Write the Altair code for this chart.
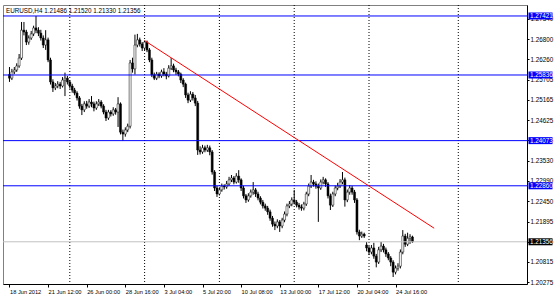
import json
import altair as alt
import pandas as pd

# ---------------- data (EURUSD H4) ----------------
opens = [1.2585, 1.2575, 1.2592, 1.2597, 1.2608, 1.2629, 1.2704, 1.2699, 1.2672, 1.2683,
         1.2694, 1.2710, 1.2704, 1.2696, 1.2683, 1.2664, 1.2678, 1.2624, 1.2565, 1.2549,
         1.2554, 1.2559, 1.2554, 1.2570, 1.2575, 1.2565, 1.2554, 1.2543, 1.2535, 1.2522,
         1.2500, 1.2490, 1.2506, 1.2500, 1.2511, 1.2506, 1.2495, 1.2506, 1.2511, 1.2500,
         1.2484, 1.2468, 1.2484, 1.2479, 1.2490, 1.2484, 1.2506, 1.2430, 1.2425, 1.2436,
         1.2446, 1.2616, 1.2600, 1.2664, 1.2678, 1.2667, 1.2656, 1.2672, 1.2651, 1.2624,
         1.2584, 1.2575, 1.2586, 1.2581, 1.2592, 1.2586, 1.2581, 1.2602, 1.2608, 1.2597,
         1.2592, 1.2586, 1.2570, 1.2559, 1.2530, 1.2516, 1.2532, 1.2522, 1.2508, 1.2382,
         1.2377, 1.2388, 1.2382, 1.2388, 1.2377, 1.2323, 1.2280, 1.2264, 1.2275, 1.2285,
         1.2283, 1.2291, 1.2302, 1.2307, 1.2296, 1.2312, 1.2302, 1.2280, 1.2259, 1.2248,
         1.2259, 1.2269, 1.2275, 1.2264, 1.2253, 1.2242, 1.2232, 1.2226, 1.2216, 1.2199,
         1.2183, 1.2178, 1.2189, 1.2178, 1.2194, 1.2210, 1.2232, 1.2237, 1.2248, 1.2242,
         1.2234, 1.2229, 1.2226, 1.2237, 1.2264, 1.2285, 1.2296, 1.2291, 1.2285, 1.2280,
         1.2296, 1.2302, 1.2291, 1.2259, 1.2234, 1.2264, 1.2280, 1.2285, 1.2296, 1.2302,
         1.2248, 1.2269, 1.2280, 1.2269, 1.2248, 1.2162, 1.2151, 1.2156, 1.2127, 1.2119,
         1.2108, 1.2119, 1.2097, 1.2081, 1.2114, 1.2124, 1.2114, 1.2103, 1.2092, 1.2081,
         1.2054, 1.2065, 1.2070, 1.2108, 1.2151, 1.2129, 1.2145, 1.21486]
highs = [1.2605, 1.2600, 1.2605, 1.2615, 1.2640, 1.2726, 1.2726, 1.2705, 1.2690, 1.2702,
         1.2716, 1.2742, 1.2712, 1.2705, 1.2690, 1.2704, 1.2684, 1.2630, 1.2572, 1.2562,
         1.2567, 1.2565, 1.2578, 1.2590, 1.2581, 1.2570, 1.2560, 1.2549, 1.2540, 1.2527,
         1.2506, 1.2513, 1.2514, 1.2519, 1.2527, 1.2512, 1.2513, 1.2519, 1.2516, 1.2505,
         1.2490, 1.2490, 1.2489, 1.2497, 1.2495, 1.2524, 1.2510, 1.2437, 1.2443, 1.2453,
         1.2624, 1.2630, 1.2692, 1.2694, 1.2684, 1.2672, 1.2676, 1.2676, 1.2656, 1.2630,
         1.2590, 1.2592, 1.2591, 1.2598, 1.2602, 1.2592, 1.2610, 1.2629, 1.2614, 1.2603,
         1.2597, 1.2590, 1.2575, 1.2563, 1.2536, 1.2540, 1.2538, 1.2530, 1.2514, 1.2392,
         1.2396, 1.2394, 1.2396, 1.2394, 1.2382, 1.2328, 1.2286, 1.2282, 1.2292, 1.2290,
         1.2299, 1.2310, 1.2315, 1.2312, 1.2320, 1.2328, 1.2306, 1.2286, 1.2264, 1.2266,
         1.2276, 1.2296, 1.2280, 1.2270, 1.2258, 1.2248, 1.2238, 1.2232, 1.2222, 1.2205,
         1.2190, 1.2196, 1.2194, 1.2200, 1.2217, 1.2238, 1.2245, 1.2255, 1.2275, 1.2248,
         1.2240, 1.2236, 1.2243, 1.2270, 1.2292, 1.2315, 1.2302, 1.2298, 1.2292, 1.2303,
         1.2310, 1.2306, 1.2296, 1.2265, 1.2270, 1.2287, 1.2294, 1.2304, 1.2323, 1.2308,
         1.2276, 1.2288, 1.2286, 1.2275, 1.2253, 1.2168, 1.2163, 1.2160, 1.2135, 1.2124,
         1.2127, 1.2133, 1.2103, 1.2122, 1.2135, 1.2130, 1.2120, 1.2108, 1.2097, 1.2086,
         1.2072, 1.2078, 1.2115, 1.2167, 1.2157, 1.2160, 1.2156, 1.21520]
lows = [1.2565, 1.2570, 1.2586, 1.2592, 1.2603, 1.2624, 1.2690, 1.2664, 1.2665, 1.2678,
        1.2688, 1.2696, 1.2688, 1.2676, 1.2656, 1.2651, 1.2618, 1.2558, 1.2538, 1.2543,
        1.2548, 1.2546, 1.2550, 1.2527, 1.2558, 1.2547, 1.2536, 1.2529, 1.2515, 1.2493,
        1.2476, 1.2484, 1.2493, 1.2495, 1.2497, 1.2486, 1.2490, 1.2500, 1.2494, 1.2478,
        1.2460, 1.2463, 1.2472, 1.2474, 1.2477, 1.2444, 1.2424, 1.2407, 1.2418, 1.2430,
        1.2440, 1.2590, 1.2585, 1.2658, 1.2660, 1.2648, 1.2650, 1.2645, 1.2618, 1.2578,
        1.2570, 1.2570, 1.2575, 1.2576, 1.2580, 1.2572, 1.2577, 1.2597, 1.2591, 1.2584,
        1.2580, 1.2562, 1.2551, 1.2522, 1.2508, 1.2511, 1.2515, 1.2500, 1.2369, 1.2370,
        1.2372, 1.2376, 1.2377, 1.2368, 1.2316, 1.2272, 1.2256, 1.2260, 1.2270, 1.2276,
        1.2278, 1.2286, 1.2296, 1.2290, 1.2292, 1.2294, 1.2272, 1.2252, 1.2240, 1.2243,
        1.2254, 1.2262, 1.2256, 1.2247, 1.2236, 1.2225, 1.2219, 1.2208, 1.2192, 1.2176,
        1.2167, 1.2172, 1.2162, 1.2172, 1.2188, 1.2204, 1.2226, 1.2231, 1.2236, 1.2228,
        1.2222, 1.2219, 1.2220, 1.2232, 1.2258, 1.2280, 1.2284, 1.2278, 1.2189, 1.2275,
        1.2290, 1.2283, 1.2252, 1.2221, 1.2229, 1.2258, 1.2274, 1.2280, 1.2290, 1.2230,
        1.2242, 1.2262, 1.2262, 1.2240, 1.2155, 1.2140, 1.2146, 1.2146, 1.2110, 1.2100,
        1.2102, 1.2090, 1.2067, 1.2076, 1.2108, 1.2107, 1.2095, 1.2086, 1.2070, 1.2041,
        1.2048, 1.2058, 1.2064, 1.2102, 1.2122, 1.2124, 1.2130, 1.21330]
closes = [1.2575, 1.2592, 1.2597, 1.2608, 1.2629, 1.2704, 1.2699, 1.2672, 1.2683, 1.2694,
          1.2710, 1.2704, 1.2696, 1.2683, 1.2664, 1.2678, 1.2624, 1.2565, 1.2549, 1.2554,
          1.2559, 1.2554, 1.2570, 1.2575, 1.2565, 1.2554, 1.2543, 1.2535, 1.2522, 1.2500,
          1.2490, 1.2506, 1.2500, 1.2511, 1.2506, 1.2495, 1.2506, 1.2511, 1.2500, 1.2484,
          1.2468, 1.2484, 1.2479, 1.2490, 1.2484, 1.2506, 1.2430, 1.2425, 1.2436, 1.2446,
          1.2616, 1.2600, 1.2664, 1.2678, 1.2667, 1.2656, 1.2672, 1.2651, 1.2624, 1.2584,
          1.2575, 1.2586, 1.2581, 1.2592, 1.2586, 1.2581, 1.2602, 1.2608, 1.2597, 1.2592,
          1.2586, 1.2570, 1.2559, 1.2530, 1.2516, 1.2532, 1.2522, 1.2508, 1.2382, 1.2377,
          1.2388, 1.2382, 1.2388, 1.2377, 1.2323, 1.2280, 1.2264, 1.2275, 1.2285, 1.2283,
          1.2291, 1.2302, 1.2307, 1.2296, 1.2312, 1.2302, 1.2280, 1.2259, 1.2248, 1.2259,
          1.2269, 1.2275, 1.2264, 1.2253, 1.2242, 1.2232, 1.2226, 1.2216, 1.2199, 1.2183,
          1.2178, 1.2189, 1.2178, 1.2194, 1.2210, 1.2232, 1.2237, 1.2248, 1.2242, 1.2234,
          1.2229, 1.2226, 1.2237, 1.2264, 1.2285, 1.2296, 1.2291, 1.2285, 1.2280, 1.2296,
          1.2302, 1.2291, 1.2259, 1.2234, 1.2264, 1.2280, 1.2285, 1.2296, 1.2302, 1.2248,
          1.2269, 1.2280, 1.2269, 1.2248, 1.2162, 1.2151, 1.2156, 1.2151, 1.2119, 1.2108,
          1.2119, 1.2097, 1.2081, 1.2114, 1.2124, 1.2114, 1.2103, 1.2092, 1.2081, 1.2054,
          1.2065, 1.2070, 1.2108, 1.2151, 1.2129, 1.2145, 1.2149, 1.21356]

time_labels = ["18 Jun 2012", "21 Jun 12:00", "26 Jun 00:00", "28 Jun 16:00", "3 Jul 04:00",
               "5 Jul 20:00", "10 Jul 08:00", "13 Jul 00:00", "17 Jul 12:00", "20 Jul 04:00",
               "24 Jul 16:00"]
label_bars = [0, 16, 32, 48, 64, 80, 96, 112, 128, 144, 160]
grid_bars = [25, 56, 87, 118, 149, 186]
price_ticks = [1.27340, 1.26800, 1.26260, 1.25705, 1.25165, 1.24625, 1.24085, 1.23530,
               1.22990, 1.22450, 1.21895, 1.21355, 1.20815, 1.20275]
level_prices = [1.27421, 1.25836, 1.24073, 1.22860]
current_price = [1.21356]
trend_bars = [56, 176]
trend_prices = [1.2676, 1.2172]
header = "EURUSD,H4  1.21486 1.21520 1.21330 1.21356"

# ---------------- chart ----------------
W, H = 524, 279
FONT = "Liberation Sans"
FS = 6.3
FSX = 5.7

df = pd.DataFrame({"i": list(range(len(closes))), "o": opens, "h": highs, "l": lows, "c": closes})
df["dir"] = ["up" if c >= o else "down" for o, c in zip(opens, closes)]

xscale = alt.Scale(domain=[-0.61, 212.4], nice=False, zero=False)
yscale = alt.Scale(domain=[1.20222, 1.27716], nice=False, zero=False)

label_expr = json.dumps(time_labels) + "[round(datum.value / 16)]"

x_axis = alt.Axis(values=label_bars, labelExpr=label_expr, title=None, grid=False,
                  tickSize=3, tickColor="#000000", domainColor="#000000", labelAlign="left",
                  labelPadding=1, labelFont=FONT, labelFontSize=FSX, labelColor="#000000",
                  labelOverlap=False, labelFlush=False, labelBound=False)
y_axis = alt.Axis(orient="right", values=price_ticks, format=".5f", title=None, grid=False,
                  tickSize=2, tickColor="#000000", domainColor="#000000", labelPadding=1,
                  labelFont=FONT, labelFontSize=FS, labelColor="#000000", labelOverlap=False,
                  labelBound=False, labelFlush=False)


def X(field):
    return alt.X(field, scale=xscale, axis=x_axis)


def Y(field):
    return alt.Y(field, scale=yscale, axis=y_axis)


base = alt.Chart(df)

wicks = base.mark_rule(color="#000000", strokeWidth=1).encode(
    x=X("i:Q"), y=Y("l:Q"), y2="h:Q")
bodies = base.mark_bar(size=2, stroke="#000000", strokeWidth=0.5).encode(
    x=X("i:Q"), y=Y("o:Q"), y2="c:Q",
    color=alt.Color("dir:N", scale=alt.Scale(domain=["up", "down"], range=["#ffffff", "#000000"]), legend=None),
)

grid = alt.Chart(pd.DataFrame({"g": grid_bars})).mark_rule(
    color="#000000", strokeWidth=1, strokeDash=[1, 2]).encode(
    x=X("g:Q"), y=alt.value(0), y2=alt.value(H))

levels_df = pd.DataFrame({"p": level_prices, "t": [f"{p:.5f}" for p in level_prices]})
cur_df = pd.DataFrame({"p": current_price, "t": [f"{p:.5f}" for p in current_price]})

cur_line = alt.Chart(cur_df).mark_rule(color="#c0c0c0", strokeWidth=1).encode(
    y=Y("p:Q"), x=alt.value(0), x2=alt.value(W))
level_lines = alt.Chart(levels_df).mark_rule(color="#0000ff", strokeWidth=1).encode(
    y=Y("p:Q"), x=alt.value(0), x2=alt.value(W))

trend = alt.Chart(pd.DataFrame({"b": trend_bars, "p": trend_prices})).mark_line(
    color="#ff0000", strokeWidth=1).encode(x=X("b:Q"), y=Y("p:Q"))


def tag(data, fill):
    box = alt.Chart(data).mark_rect(color=fill, yOffset=-3.5, y2Offset=3.5).encode(
        y=Y("p:Q"), y2="p:Q", x=alt.value(W + 1.5), x2=alt.value(W + 25.5))
    txt = alt.Chart(data).mark_text(color="#ffffff", align="left", baseline="middle",
                                    font=FONT, fontSize=FS, dx=0.5).encode(
        y=Y("p:Q"), x=alt.value(W + 2.5), text="t:N")
    return box + txt


header_txt = alt.Chart(pd.DataFrame({"t": [header]})).mark_text(
    align="left", baseline="top", font=FONT, fontSize=FS, color="#000000").encode(
    x=alt.value(3), y=alt.value(3), text="t:N")

chart = alt.layer(
    grid, wicks, bodies, cur_line, level_lines, trend,
    tag(levels_df, "#0000ff"), tag(cur_df, "#000000"), header_txt,
).properties(
    width=W, height=H,
    autosize=alt.AutoSizeParams(type="none"),
    padding={"left": 3, "top": 5, "right": 27, "bottom": 12},
    background="#ffffff",
).configure_view(stroke="#808080", strokeWidth=1)

chart.save("out.html", embed_options={"renderer": "svg", "actions": False})
